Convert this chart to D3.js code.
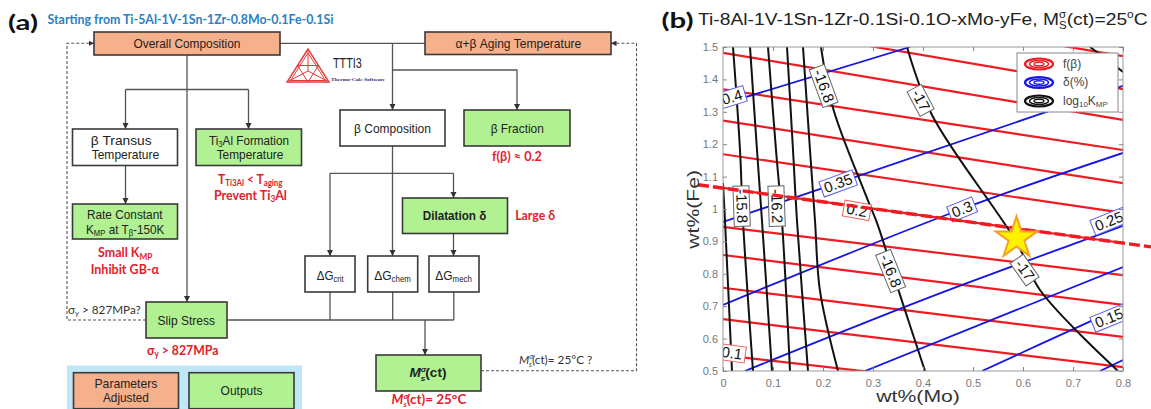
<!DOCTYPE html>
<html><head><meta charset="utf-8">
<script src="https://cdn.jsdelivr.net/npm/d3@7"></script>
<style>body{margin:0;background:#fff}svg{display:block}</style>
</head><body>
<svg id="c" width="1151" height="409"></svg>
<script>
// ---------------- DATA ----------------
const moTicks = [0, 0.1, 0.2, 0.3, 0.4, 0.5, 0.6, 0.7, 0.8];
const feTicks = [0.5, 0.6, 0.7, 0.8, 0.9, 1.0, 1.1, 1.2, 1.3, 1.4, 1.5];
const moTickLabels = ["0", "0.1", "0.2", "0.3", "0.4", "0.5", "0.6", "0.7", "0.8"];
const feTickLabels = ["0.5", "0.6", "0.7", "0.8", "0.9", "1", "1.1", "1.2", "1.3", "1.4", "1.5"];

// f(beta) contours: [Mo, Fe] points
const fbetaLevels = [0.10, 0.12, 0.14, 0.16, 0.18, 0.20, 0.22, 0.24, 0.26, 0.28, 0.30, 0.32];
const fbetaLines = [
  [[0, 0.549], [0.8, 0.408]],
  [[0, 0.660], [0.8, 0.512]],
  [[0, 0.757], [0.8, 0.605]],
  [[0, 0.858], [0.8, 0.704]],
  [[0, 0.945], [0.8, 0.796]],
  [[0, 1.065], [0.8, 0.895]],
  [[0, 1.169], [0.8, 0.988]],
  [[0, 1.273], [0.8, 1.080]],
  [[0, 1.369], [0.8, 1.182]],
  [[0, 1.482], [0.8, 1.275]],
  [[0, 1.580], [0.8, 1.370]],
  [[0, 1.680], [0.8, 1.472]]
];
const fbetaTarget = [[-0.05, 1.075], [0.856, 0.883]]; // dashed f(beta)=0.2 line

// delta(%) contours
const deltaLevels = [0.40, 0.35, 0.30, 0.25, 0.20, 0.15, 0.10];
const deltaLines = [
  [[0, 1.324], [0.374, 1.50]],
  [[0, 0.960], [0.8, 1.380]],
  [[0, 0.704], [0.478, 1.000], [0.8, 1.173]],
  [[0.044, 0.50], [0.414, 0.728], [0.74, 0.914], [0.8, 0.948]],
  [[0.284, 0.50], [0.8, 0.821]],
  [[0.518, 0.50], [0.74, 0.657], [0.8, 0.698]],
  [[0.754, 0.50], [0.8, 0.534]]
];

// log10 K_MP contours
const kmpLevels = [-15.6, -15.8, -16.0, -16.2, -16.4, -16.6, -16.8, -17.0, -17.2];
const kmpLines = [
  [[0.000, 1.080], [0.004, 0.963], [0.018, 0.500]],
  [[0.020, 1.500], [0.034, 1.182], [0.040, 0.963], [0.060, 0.500]],
  [[0.054, 1.500], [0.068, 1.182], [0.078, 0.963], [0.098, 0.500]],
  [[0.090, 1.500], [0.106, 1.182], [0.118, 0.963], [0.134, 0.500]],
  [[0.128, 1.500], [0.140, 1.182], [0.148, 0.963], [0.170, 0.500]],
  [[0.160, 1.500], [0.174, 1.182], [0.184, 0.963], [0.194, 0.747], [0.230, 0.500]],
  [[0.196, 1.500], [0.220, 1.312], [0.284, 1.049], [0.308, 0.957], [0.354, 0.735], [0.404, 0.500]],
  [[0.368, 1.500], [0.418, 1.290], [0.588, 0.895], [0.634, 0.750], [0.790, 0.500]],
  [[0.734, 1.500], [0.774, 1.454], [0.800, 1.423]]
];

// contour labels: text, Mo, Fe, angle, kind
const contourLabels = [
  ["0.4", 0.018, 1.346, -17, "d"],
  ["-16.8", 0.202, 1.380, 70, "k"],
  ["-17", 0.396, 1.336, 62, "k"],
  ["-15.8", 0.038, 1.009, 88, "k"],
  ["-16.2", 0.108, 1.009, 88, "k"],
  ["0.35", 0.230, 1.080, -20, "d"],
  ["0.2", 0.268, 0.997, 10, "f"],
  ["0.3", 0.478, 1.000, -22, "d"],
  ["0.25", 0.772, 0.963, -22, "d"],
  ["-16.8", 0.336, 0.809, 68, "k"],
  ["-17", 0.604, 0.812, 55, "k"],
  ["0.15", 0.772, 0.664, -22, "d"],
  ["0.1", 0.018, 0.556, 8, "f"]
];
const optimum = [0.587, 0.910];
const legendNames = ["f(β)", "δ(%)", "log10KMP"];

// ---------------- SETUP ----------------
const svg = d3.select("#c");
const SANS = "'Liberation Sans', Arial, sans-serif";
const CAL = "Lato, 'Open Sans', sans-serif";

// rich text helper: parts = [[str, kind, italic]], kind '', 'sub', 'sup', 'ss' (sup+sub stacked: [sup, sub])
function rich(parent, cx, cy, parts, o) {
  const fs = o.fs || 12.5;
  const t = parent.append("text")
    .attr("font-family", o.ff || SANS)
    .attr("font-size", fs)
    .attr("font-weight", o.bold ? "bold" : "normal")
    .attr("font-style", o.italic ? "italic" : "normal")
    .attr("fill", o.color || "#222")
    .attr("x", 0).attr("y", 0);
  let cur = 0;
  parts.forEach(p => {
    const [s, k, it] = p;
    let ts;
    if (k === "sub") {
      ts = t.append("tspan").text(s).attr("font-size", fs * 0.66).attr("dy", fs * 0.2 - cur);
      cur = fs * 0.2;
    } else if (k === "sup") {
      ts = t.append("tspan").text(s).attr("font-size", fs * 0.62).attr("dy", -fs * 0.38 - cur);
      cur = -fs * 0.38;
    } else if (k === "ss") {
      const a = t.append("tspan").text(s[0]).attr("font-size", fs * 0.6).attr("dy", -fs * 0.4 - cur);
      if (it) a.attr("font-style", "italic");
      const w = a.node().getComputedTextLength();
      ts = t.append("tspan").text(s[1]).attr("font-size", fs * 0.6).attr("dx", -w).attr("dy", fs * 0.68);
      cur = fs * 0.28;
    } else {
      ts = t.append("tspan").text(s).attr("dy", -cur);
      cur = 0;
    }
    if (it) ts.attr("font-style", "italic");
  });
  const bb = t.node().getBBox();
  const k = o.w ? o.w / bb.width : 1;
  const base = cy + fs * 0.36;
  let tx;
  if (o.anchor === "start") tx = cx - k * bb.x;
  else tx = cx - k * (bb.x + bb.width / 2);
  t.attr("transform", `translate(${tx},${base}) scale(${k},1)`);
  return t;
}

// ---------------- PANEL (a) ----------------
const A = svg.append("g");
const SALMON = "#f6b08b", GREEN = "#b1f192", LBLUE = "#c0e7f8";
const defs = svg.append("defs");
defs.append("marker").attr("id", "arr").attr("viewBox", "0 0 10 10").attr("refX", 10).attr("refY", 5)
  .attr("markerWidth", 5).attr("markerHeight", 5).attr("orient", "auto-start-reverse")
  .append("path").attr("d", "M0,0L10,5L0,10z").attr("fill", "#333");

function box(x, y, w, h, fill) {
  A.append("rect").attr("x", x).attr("y", y).attr("width", w).attr("height", h)
    .attr("fill", fill).attr("stroke", "#3a3a3a").attr("stroke-width", 1.6);
}
function wire(pts, arrow, dashed) {
  A.append("path").attr("d", d3.line()(pts)).attr("fill", "none")
    .attr("stroke", "#555").attr("stroke-width", dashed ? 1.1 : 1.3)
    .attr("stroke-dasharray", dashed ? "3,2" : null)
    .attr("marker-end", arrow ? "url(#arr)" : null);
}

// legend background
A.append("rect").attr("x", 67).attr("y", 365.5).attr("width", 235).attr("height", 45).attr("fill", LBLUE);

// wires
wire([[280, 43.3], [425, 43.3]]);
wire([[392.5, 43.3], [392.5, 110]], true);
wire([[392.5, 70], [517, 70], [517, 110]], true);
wire([[187, 55], [187, 302]], true);
wire([[125.5, 89.5], [248.5, 89.5]]);
wire([[125.5, 89.5], [125.5, 129]], true);
wire([[248.5, 89.5], [248.5, 129]], true);
wire([[125.5, 165.5], [125.5, 204]], true);
wire([[392.5, 146], [392.5, 256]], true);
wire([[330, 173.3], [453.5, 173.3]]);
wire([[330, 173.3], [330, 256]], true);
wire([[453.5, 173.3], [453.5, 198]], true);
wire([[453.5, 233.5], [453.5, 256]], true);
wire([[330, 292], [330, 320]]);
wire([[392.7, 292], [392.7, 320]]);
wire([[453.8, 292], [453.8, 320]]);
wire([[227, 320], [453.8, 320]]);
wire([[425, 320], [425, 355]], true);
wire([[146, 320], [67, 320], [67, 43.3], [94, 43.3]], true, true);
wire([[481, 370.7], [636.5, 370.7], [636.5, 43.3], [611, 43.3]], true, true);

// boxes
box(94, 32, 186, 23, SALMON);
box(425, 32, 186, 22.5, SALMON);
box(72.5, 129, 105, 36.5, "#fff");
box(196, 129, 105.5, 36.5, GREEN);
box(72.5, 204, 105, 35, GREEN);
box(340, 110, 105, 36, "#fff");
box(464, 110, 106, 36, GREEN);
box(402.5, 198, 105, 35.5, GREEN);
box(305, 256, 50, 36, "#fff");
box(367.7, 256, 50, 36, "#fff");
box(429, 256, 50, 36, "#fff");
box(146, 302, 81, 36, GREEN);
box(376, 355, 105, 36, GREEN);
box(73.5, 372.7, 105, 36, SALMON);
box(189, 372.7, 105, 36, GREEN);

// box texts
rich(A, 187, 43.5, [["Overall Composition"]], {w: 107});
rich(A, 518.5, 43.5, [["α+β Aging Temperature"]], {w: 126});
rich(A, 121.2, 140.2, [["β Transus"]], {w: 61});
rich(A, 125.5, 154.6, [["Temperature"]], {w: 67.7});
rich(A, 249, 140.2, [["Ti"], ["3", "sub"], ["Al Formation"]], {w: 80});
rich(A, 250, 154.6, [["Temperature"]], {w: 66.7});
rich(A, 125, 214.8, [["Rate Constant"]], {w: 76});
rich(A, 125.5, 229, [["K"], ["MP", "sub"], [" at T"], ["β", "sub"], ["-150K"]], {w: 79});
rich(A, 392.5, 128, [["β Composition"]], {w: 77});
rich(A, 517.3, 128, [["β Fraction"]], {w: 53.3});
rich(A, 454.7, 215.7, [["Dilatation δ"]], {w: 64, bold: true});
rich(A, 330.5, 275, [["ΔG"], ["crit", "sub"]], {w: 27.6});
rich(A, 392.7, 275, [["ΔG"], ["chem", "sub"]], {w: 36.7});
rich(A, 453.8, 275, [["ΔG"], ["mech", "sub"]], {w: 37});
rich(A, 186.3, 320, [["Slip Stress"]], {w: 57.5});
rich(A, 428, 372.8, [["M", "", true], [["σ", "s"], "ss", true], ["(ct)"]], {w: 37, bold: true});
rich(A, 126, 383, [["Parameters"]], {w: 63});
rich(A, 126, 397.7, [["Adjusted"]], {w: 46});
rich(A, 241.6, 390.7, [["Outputs"]], {w: 42});

// annotations
const RED = "#e2202b";
rich(A, 250.5, 179, [["T"], ["Ti3Al", "sub"], [" < T"], ["aging", "sub"]], {w: 65, bold: true, color: RED, ff: CAL, fs: 13});
rich(A, 250.5, 195, [["Prevent Ti"], ["3", "sub"], ["Al"]], {w: 73, bold: true, color: RED, ff: CAL, fs: 13});
rich(A, 125.5, 252.8, [["Small K"], ["MP", "sub"]], {w: 55, bold: true, color: RED, ff: CAL, fs: 13});
rich(A, 125, 269.7, [["Inhibit GB-α"]], {w: 68.7, bold: true, color: RED, ff: CAL, fs: 13});
rich(A, 517, 156.7, [["f(β) ≈ 0.2"]], {w: 50, bold: true, color: RED, ff: CAL, fs: 13});
rich(A, 535.2, 215.7, [["Large δ"]], {w: 40, bold: true, color: RED, ff: CAL, fs: 13});
rich(A, 182.7, 350, [["σ"], ["y", "sub"], [" > 827MPa"]], {w: 71.4, bold: true, color: RED, ff: CAL, fs: 13});
rich(A, 429.4, 399.3, [["M", "", true], [["σ", "s"], "ss", true], ["(ct)= 25°C"]], {w: 75.6, bold: true, color: RED, ff: CAL, fs: 12.5});
rich(A, 104.4, 309.3, [["σ"], ["y", "sub"], [" > 827MPa?"]], {w: 72.7, color: "#333", ff: CAL, fs: 12});
rich(A, 555.7, 359.3, [["M", "", true], [["σ", "s"], "ss", true], ["(ct)= 25°C ?"]], {w: 73.5, color: "#333", ff: CAL, fs: 12});

// title of (a)
rich(A, 23, 22, [["(a)"]], {w: 30, bold: true, fs: 21, color: "#111", ff: CAL});
rich(A, 47.5, 19, [["Starting from Ti-5Al-1V-1Sn-1Zr-0.8Mo-0.1Fe-0.1Si"]], {w: 286, anchor: "start", bold: true, color: "#2b7fc3", ff: CAL, fs: 12.5});

// Thermo-Calc logo
const LG = A.append("g").attr("fill", "none").attr("stroke", "#e23a3a").attr("stroke-width", 1);
const tri = [[308, 49], [287, 82], [329, 82]];
const cen = [308, 71];
LG.append("path").attr("d", d3.line()(tri) + "Z").attr("stroke-width", 1.4);
LG.append("path").attr("d", d3.line()([[308, 53], [290.5, 80.5], [325.5, 80.5]]) + "Z");
tri.forEach(p => LG.append("line").attr("x1", p[0]).attr("y1", p[1]).attr("x2", cen[0]).attr("y2", cen[1]));
LG.append("path").attr("d", d3.line()([[297.5, 65.5], [318.5, 65.5], [308, 82]]) + "Z");
rich(A, 333, 63, [["TTTI3"]], {w: 29, anchor: "start", fs: 14, color: "#222"});
rich(A, 331, 79, [["Thermo-Calc Software"]], {w: 55, anchor: "start", fs: 5, color: "#2a2a80", ff: "'Liberation Serif', serif", bold: true});

// ---------------- PANEL (b) ----------------
const B = svg.append("g");
const x = d3.scaleLinear().domain([0, 0.8]).range([723, 1123]);
const y = d3.scaleLinear().domain([0.5, 1.5]).range([371, 47]);
const line = d3.line().x(d => x(d[0])).y(d => y(d[1])).curve(d3.curveCatmullRom.alpha(0.5));

defs.append("clipPath").attr("id", "plotclip").append("rect")
  .attr("x", 723).attr("y", 47).attr("width", 400).attr("height", 324);

B.append("rect").attr("x", 723).attr("y", 47).attr("width", 400).attr("height", 324).attr("fill", "#fff");
const P = B.append("g").attr("clip-path", "url(#plotclip)");

const REDL = "#ee1b22", BLUEL = "#1414e6", BLK = "#111";
fbetaLines.forEach(l => P.append("path").attr("d", line(l)).attr("fill", "none").attr("stroke", REDL).attr("stroke-width", 2.2));
deltaLines.forEach(l => P.append("path").attr("d", line(l)).attr("fill", "none").attr("stroke", BLUEL).attr("stroke-width", 1.8));
kmpLines.forEach(l => P.append("path").attr("d", line(l)).attr("fill", "none").attr("stroke", BLK).attr("stroke-width", 2));

// contour labels
contourLabels.forEach(([txt, mo, fe, ang, kind]) => {
  const g = P.append("g").attr("transform", `translate(${x(mo)},${y(fe)}) rotate(${ang})`);
  const t = g.append("text").text(txt).attr("text-anchor", "middle").attr("dy", "0.36em")
    .attr("font-family", SANS).attr("font-size", 15).attr("fill", "#111");
  const bb = t.node().getBBox();
  g.insert("rect", "text").attr("x", bb.x - 3).attr("y", bb.y + 1).attr("width", bb.width + 6).attr("height", bb.height - 1)
    .attr("fill", "#fff").attr("stroke", kind === "d" ? "#5b5bf0" : kind === "f" ? "#f06060" : "#666").attr("stroke-width", 1);
});

// frame, axes
B.append("rect").attr("x", 723).attr("y", 47).attr("width", 400).attr("height", 324)
  .attr("fill", "none").attr("stroke", "#999").attr("stroke-width", 1);
function styleAxis(g) {
  g.select(".domain").remove();
  g.selectAll(".tick line").attr("stroke", "#888");
  g.selectAll(".tick text").attr("fill", "#777").attr("font-family", SANS).attr("font-size", 11);
}
B.append("g").attr("transform", "translate(723,0)")
  .call(d3.axisLeft(y).tickValues(feTicks).tickFormat((d, i) => feTickLabels[i]).tickSizeInner(-4).tickSizeOuter(0).tickPadding(5))
  .call(styleAxis);
B.append("g").attr("transform", "translate(1123,0)")
  .call(d3.axisRight(y).tickValues(feTicks).tickFormat("").tickSizeInner(-4).tickSizeOuter(0)).call(styleAxis);
B.append("g").attr("transform", "translate(0,371)")
  .call(d3.axisBottom(x).tickValues(moTicks).tickFormat((d, i) => moTickLabels[i]).tickSizeInner(-4).tickSizeOuter(0).tickPadding(8))
  .call(styleAxis);
B.append("g").attr("transform", "translate(0,47)")
  .call(d3.axisTop(x).tickValues(moTicks).tickFormat("").tickSizeInner(-4).tickSizeOuter(0)).call(styleAxis);

// dashed target f(beta)=0.2
B.append("path").attr("d", d3.line().x(d => x(d[0])).y(d => y(d[1]))(fbetaTarget))
  .attr("fill", "none").attr("stroke", REDL).attr("stroke-width", 3.4).attr("stroke-dasharray", "11,4");

// star
B.append("path").attr("d", d3.symbol(d3.symbolStar).size(540)())
  .attr("transform", `translate(${x(optimum[0])},${y(optimum[1])})`)
  .attr("fill", "#fff200").attr("stroke", "#f5a020").attr("stroke-width", 2);

// legend
const L = B.append("g");
L.append("rect").attr("x", 1017).attr("y", 53).attr("width", 101).attr("height", 59).attr("fill", "#fff").attr("stroke", "#888");
[REDL, BLUEL, BLK].forEach((c, i) => {
  const cy = 64 + i * 18.5;
  [[14, 5.5, 2.2], [9.5, 3.5, 1.6], [5, 1.8, 1.4]].forEach(([rx, ry, sw]) =>
    L.append("ellipse").attr("cx", 1039).attr("cy", cy).attr("rx", rx).attr("ry", ry)
      .attr("fill", "none").attr("stroke", c).attr("stroke-width", sw));
});
rich(L, 1063, 63.5, [[legendNames[0]]], {anchor: "start", fs: 12, color: "#444"});
rich(L, 1063, 82, [[legendNames[1]]], {anchor: "start", fs: 12, color: "#444"});
rich(L, 1063, 100.5, [["log"], ["10", "sub"], ["K"], ["MP", "sub"]], {anchor: "start", fs: 12, color: "#444"});

// axis labels
rich(B, 917.5, 396, [["wt%(Mo)"]], {w: 85, fs: 17, color: "#333"});
const yl = B.append("g").attr("transform", "translate(693,210) rotate(-90)");
rich(yl, 0, 0, [["wt%(Fe)"]], {w: 80, fs: 16, color: "#333"});

// title
rich(B, 677.5, 20.5, [["(b)"]], {w: 32, bold: true, fs: 20, color: "#111", ff: CAL});
rich(B, 698, 18.5, [["Ti-8Al-1V-1Sn-1Zr-0.1Si-0.1O-xMo-yFe, M"], [["σ", "S"], "ss"], ["(ct)=25"], ["o", "sup"], ["C"]], {w: 450, anchor: "start", fs: 17, color: "#222"});
</script>
</body></html>
